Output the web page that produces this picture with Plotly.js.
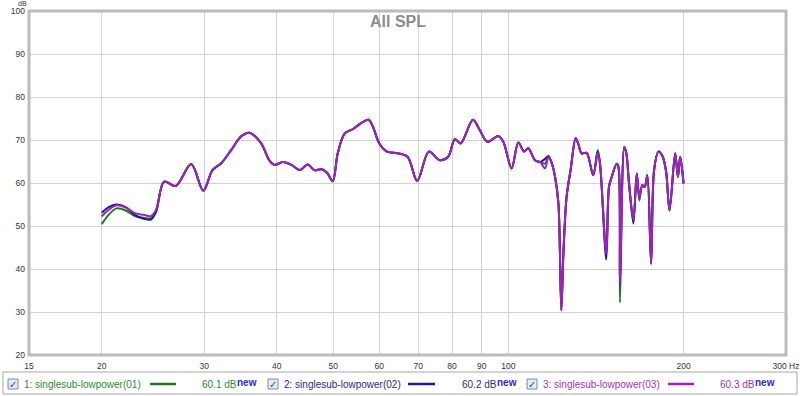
<!DOCTYPE html>
<html><head><meta charset="utf-8">
<script src="https://cdn.plot.ly/plotly-3.0.1.min.js"></script>
<style>html,body{margin:0;padding:0;background:#fff}#chart{width:800px;height:396px}</style>
</head><body><div id="chart"></div>
<script>
// ---- data ----
const freqHz = [20.0,20.5,21.2,22.0,22.8,23.6,24.3,24.8,25.6,26.8,28.5,29.9,31.0,32.1,33.4,34.7,35.9,37.6,38.8,39.6,41.0,42.4,43.8,45.2,46.4,47.8,48.9,49.9,50.9,52.3,54.0,55.8,57.5,58.5,60.0,61.9,64.5,67.1,69.7,73.0,76.2,78.8,80.9,82.8,86.9,89.3,92.0,96.1,98.0,101.3,104.0,106.4,108.2,111.1,113.4,115.6,117.2,118.8,120.3,121.9,123.3,124.3,125.9,127.9,130.5,131.8,133.6,136.3,139.9,142.4,143.7,147.3,148.9,150.5,153.5,154.6,155.5,158.2,159.5,161.2,164.0,166.2,167.9,169.9,171.5,173.3,175.9,178.0,181.1,184.2,186.7,189.2,193.5,195.6,197.4,200.0];
const spl01 = [50.4,52.4,54.1,53.6,52.3,51.9,51.8,53.4,60.3,59.3,64.4,58.2,63.0,64.6,67.7,70.8,71.7,69.2,65.3,64.2,64.9,64.2,63.0,64.3,63.0,63.2,62.2,60.4,66.9,71.5,72.5,73.9,74.7,73.1,69.2,67.3,66.9,66.1,60.5,67.3,65.3,66.1,70.2,69.2,74.7,72.3,69.6,70.9,69.6,63.4,69.4,67.3,68.1,65.3,64.9,64.5,66.1,64.5,61.4,55.2,30.4,43.5,56.8,63.0,70.4,69.2,66.9,67.0,61.8,67.7,64.5,43.4,59.1,61.4,64.5,63.7,32.2,68.4,66.9,59.9,51.2,62.2,55.9,59.5,59.1,61.8,41.2,63.0,67.3,66.1,62.6,53.6,66.9,61.4,66.1,59.9];
const spl02 = [53.1,54.3,55.0,54.4,52.6,51.7,51.5,53.3,60.3,59.3,64.4,58.2,63.0,64.6,67.7,70.8,71.7,69.2,65.3,64.2,64.9,64.2,63.0,64.3,63.0,63.2,62.2,60.4,66.9,71.5,72.5,73.9,74.7,73.1,69.2,67.3,66.9,66.1,60.5,67.3,65.3,66.1,70.2,69.2,74.7,72.3,69.6,70.9,69.6,63.4,69.4,67.3,68.1,65.3,64.9,65.6,66.3,64.5,61.4,55.2,30.4,43.5,56.8,63.0,70.4,69.2,66.9,67.0,61.8,67.2,64.5,42.2,59.1,61.4,64.5,63.7,36.3,68.4,66.9,59.9,50.6,62.2,56.8,59.5,59.1,61.8,41.2,63.0,67.3,66.1,62.6,53.6,66.9,61.4,66.1,59.9];
const spl03 = [52.2,53.6,54.8,54.3,53.0,52.6,52.3,53.8,60.3,59.3,64.4,58.2,63.0,64.6,67.7,70.8,71.7,69.2,65.3,64.2,64.9,64.2,63.0,64.3,63.0,63.2,62.2,60.4,66.9,71.5,72.5,73.9,74.7,73.1,69.2,67.3,66.9,66.1,60.5,67.3,65.3,66.1,70.2,69.2,74.7,72.3,69.6,70.9,69.6,63.4,69.4,67.3,68.1,65.3,64.9,63.4,66.1,64.5,61.4,55.2,30.4,43.5,56.8,63.0,70.4,69.2,66.9,67.0,61.8,67.0,64.5,43.5,59.1,61.4,64.5,63.7,36.5,68.4,66.9,59.9,51.5,62.2,56.8,59.5,59.1,61.8,41.2,63.0,67.3,66.1,62.6,53.6,66.9,61.4,66.1,59.9];
const seriesNames = ['1: singlesub-lowpower(01)','2: singlesub-lowpower(02)','3: singlesub-lowpower(03)'];
const seriesLevels = ['60.1 dB','60.2 dB','60.3 dB'];
const xTickVals = [15,20,30,40,50,60,70,80,90,100,200,300];
const xTickText = ['15','20','30','40','50','60','70','80','90','100','200','300 Hz'];
const yTickVals = [20,30,40,50,60,70,80,90,100];

// ---- styling ----
const lineColors = ['#1f7a1f','#1c1c8c','#a020c0'];
const textColors = ['#2f8a2f','#2a2a90','#a035b5'];
const W = 800, H = 396, L = 29, R = 786, T = 11, B = 355;
const px = x => (x - L) / (R - L);
const py = y => (B - y) / (B - T);

const allSeries = [spl01, spl02, spl03];
const traces = allSeries.map((s, i) => ({
  x: freqHz, y: s, type: 'scatter', mode: 'lines', name: seriesNames[i],
  line: {color: lineColors[i], width: 2, shape: 'spline', smoothing: 0.9},
  hoverinfo: 'skip'
}));

const shapes = [
  {type:'rect', xref:'paper', yref:'paper', x0:0, x1:1, y0:0, y1:1, line:{color:'#bcbcbc', width:3}, layer:'above'},
  {type:'rect', xref:'paper', yref:'paper', x0:px(3), x1:px(797), y0:py(372), y1:py(394), line:{color:'#a8a8a8', width:1}, fillcolor:'rgba(0,0,0,0)'}
];
const annotations = [
  {text:'dB', xref:'paper', yref:'paper', x:px(22), y:py(-2), showarrow:false, font:{family:'Liberation Sans, Arial, sans-serif', size:7, color:'#333'}, xanchor:'center', yanchor:'top'}
];
const legendPos = [
  {cb:8, name:22, l0:150, l1:176, lv:200},
  {cb:268, name:282, l0:408, l1:435, lv:460},
  {cb:527, name:541, l0:668, l1:694, lv:718}
];
const legY = 384;
legendPos.forEach((p, i) => {
  shapes.push({type:'rect', xref:'paper', yref:'paper', x0:px(p.cb), x1:px(p.cb+10), y0:py(legY+5), y1:py(legY-5), line:{color:'#7d8ea6', width:1}, fillcolor:'#e4ebf4'});
  shapes.push({type:'line', xref:'paper', yref:'paper', x0:px(p.l0), x1:px(p.l1), y0:py(legY), y1:py(legY), line:{color:lineColors[i], width:2.5}});
  annotations.push({text:'✓', xref:'paper', yref:'paper', x:px(p.cb+5), y:py(legY), showarrow:false, xanchor:'center', yanchor:'middle', font:{family:'DejaVu Sans', size:10, color:'#2b4a8a'}});
  annotations.push({text:seriesNames[i], xref:'paper', yref:'paper', x:px(p.name), y:py(legY), showarrow:false, xanchor:'left', yanchor:'middle', font:{family:'Liberation Sans, Arial, sans-serif', size:10, color:textColors[i]}});
  annotations.push({text:seriesLevels[i], xref:'paper', yref:'paper', x:px(p.lv), y:py(legY), showarrow:false, xanchor:'left', yanchor:'middle', font:{family:'Liberation Sans, Arial, sans-serif', size:10, color:textColors[i]}});
  annotations.push({text:'<b>new</b>', xref:'paper', yref:'paper', x:px(p.lv+35), y:py(legY-2), showarrow:false, xanchor:'left', yanchor:'middle', font:{family:'Liberation Sans, Arial, sans-serif', size:10, color:'#1f2fd0'}});
});

const layout = {
  width: W, height: H,
  margin: {l: L, r: W - R, t: T, b: H - B, pad: 0},
  paper_bgcolor: '#ffffff', plot_bgcolor: '#ffffff',
  showlegend: false,
  title: {text:'<b>All SPL</b>', x: 398/W, xanchor:'center', xref:'container', y: 1 - 21/H, yanchor:'middle', yref:'container', font:{family:'Liberation Sans, Arial, sans-serif', size:16, color:'#8c8c8c'}},
  xaxis: {type:'log', range:[Math.log10(15), Math.log10(300)], tickvals:xTickVals, ticktext:xTickText, showgrid:true, gridcolor:'#d2d2d2', gridwidth:1, zeroline:false, showline:false, ticks:'', tickfont:{family:'Liberation Sans, Arial, sans-serif', size:8.5, color:'#333'}, ticklabelstandoff:4},
  yaxis: {range:[20,100], tickvals:yTickVals, showgrid:true, gridcolor:'#d2d2d2', gridwidth:1, zeroline:false, showline:false, ticks:'', tickfont:{family:'Liberation Sans, Arial, sans-serif', size:8.5, color:'#333'}, ticklabelstandoff:3},
  shapes: shapes, annotations: annotations
};
Plotly.newPlot('chart', traces, layout, {staticPlot:true, displayModeBar:false});
</script></body></html>
